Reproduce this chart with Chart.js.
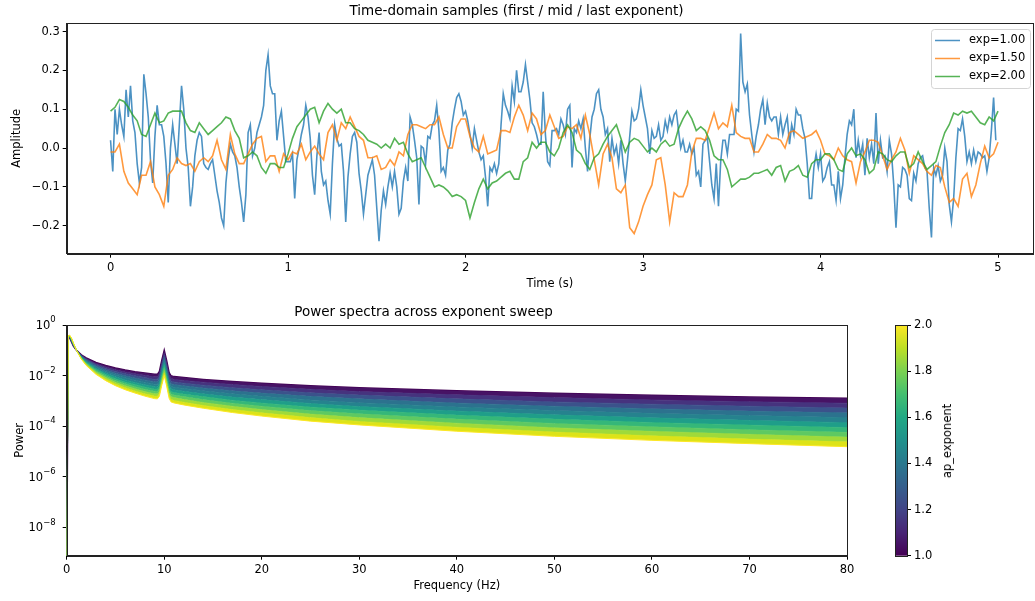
<!DOCTYPE html>
<html lang="en">
<head>
<meta charset="UTF-8">
<title>Aperiodic exponent sweep</title>
<script src="https://cdn.jsdelivr.net/npm/chart.js"></script>
<style>
  body { margin: 0; background: #fff; }
  #wrap { position: relative; width: 1035px; height: 601px; font-family: 'DejaVu Sans', sans-serif; }
  canvas { position: absolute; }
  #cbLabel { position: absolute; left: 947px; top: 441px; transform: translate(-50%, -50%) rotate(-90deg);
             font-size: 11.5px; white-space: nowrap; color: #000; font-family: 'DejaVu Sans', sans-serif; }
</style>
</head>
<body>
<div id="wrap">
  <canvas id="timeChart" width="1035" height="300" style="left:0;top:0"></canvas>
  <canvas id="specChart" width="1035" height="301" style="left:0;top:300px"></canvas>
  <canvas id="cbar" width="72" height="301" style="left:895px;top:300px"></canvas>
  <div id="cbLabel">ap_exponent</div>
</div>
<script>
// ---- time-domain samples ----
const dtFast = 0.0125;  // step of the exp=1.00 trace
const dtSlow = 0.025;   // step of the exp=1.50 / exp=2.00 traces

const ampExp100 = [
  // 0.0 - 0.825 s
  0.02, -0.06, 0.10, 0.035, 0.10, 0.06, 0.03, 0.15, 0.08, 0.16,
  0.07, 0.04, -0.04, -0.09, -0.05, 0.19, 0.14, 0.08, -0.03, -0.09,
  0.03, 0.11, 0.06, 0.06, 0.03, -0.04, -0.14, 0.0, 0.06, 0.01,
  -0.04, 0.06, 0.16, 0.10, 0.0, -0.05, -0.15, -0.10, -0.02, 0.02,
  0.04, 0.03, -0.04, -0.05, -0.055, -0.04, -0.03, -0.07, -0.11, -0.14,
  -0.18, -0.20, -0.09, -0.03, 0.01, -0.01, -0.02, -0.05, -0.10, -0.14,
  -0.19, -0.12, 0.04, 0.06, -0.02, 0.0, 0.04,
  // 0.8375 - 1.675 s
  0.06, 0.08, 0.11, 0.20, 0.24, 0.16, 0.14, 0.14, 0.02, 0.07,
  0.095, 0.03, -0.035, -0.035, -0.035, -0.015, -0.13, -0.03, 0.0, 0.035,
  0.06, 0.11, 0.08, 0.025, -0.07, -0.12, -0.02, 0.04, -0.06, -0.095,
  -0.085, -0.135, -0.17, -0.04, 0.06, 0.025, 0.005, 0.01, -0.06, -0.19,
  -0.075, -0.015, 0.03, 0.04, 0.015, -0.065, -0.11, -0.17, -0.12, -0.07,
  -0.05, -0.03, -0.07, -0.155, -0.24, -0.16, -0.11, -0.145, -0.10, -0.065,
  -0.10, -0.06, -0.10, -0.17, -0.155, -0.085, -0.05, -0.085,
  // 1.6875 - 2.5 s
  0.08, 0.06, 0.02, -0.025, -0.145, 0.005, 0.0, -0.04, 0.03, 0.025,
  0.06, 0.07, 0.11, 0.045, -0.06, -0.05, -0.07, -0.005, 0.01, 0.065,
  0.10, 0.13, 0.14, 0.12, 0.085, 0.095, 0.07, 0.035, 0.0, 0.05,
  0.02, -0.01, -0.03, -0.02, -0.075, -0.15, -0.05, -0.06, -0.04, -0.065,
  -0.04, 0.06, 0.14, 0.11, 0.095, 0.075, 0.16, 0.12, 0.20, 0.145,
  0.145, 0.17, 0.215, 0.17, 0.125, 0.065, 0.055, 0.035, 0.01, 0.01,
  0.145, 0.035, -0.035, -0.045, 0.045, 0.045,
  // 2.5125 - 3.35 s
  0.05, 0.035, 0.075, 0.06, 0.035, 0.10, 0.11, -0.05, 0.05, 0.04,
  0.07, 0.05, 0.075, 0.0, -0.06, 0.025, 0.08, 0.10, 0.14, 0.15,
  0.10, 0.08, 0.035, 0.05, -0.035, 0.025, -0.015, 0.005, -0.04, 0.02,
  -0.04, -0.085, -0.03, 0.03, 0.095, 0.07, 0.075, 0.10, 0.15, 0.11,
  0.08, 0.05, -0.015, 0.045, 0.025, 0.03, 0.06, 0.02, 0.03, 0.07,
  0.045, 0.08, 0.06, 0.085, 0.095, 0.045, 0.0, 0.02, -0.01, -0.01,
  0.01, -0.015, 0.0, -0.07, -0.06, -0.10, 0.01, 0.02,
  // 3.3625 - 4.1875 s
  0.025, -0.035, -0.095, -0.13, -0.04, -0.15, -0.035, 0.02, 0.02, -0.015,
  0.035, 0.035, 0.035, 0.10, 0.095, 0.295, 0.17, 0.145, 0.165, 0.085,
  0.035, -0.01, 0.03, 0.06, 0.10, 0.125, 0.06, 0.115, 0.08, 0.07,
  0.08, 0.08, 0.035, 0.08, 0.035, 0.06, 0.08, 0.01, 0.06, 0.035,
  0.10, 0.085, 0.085, 0.05, 0.025, -0.04, -0.13, -0.13, -0.05, -0.015,
  -0.05, -0.015, -0.085, -0.075, -0.05, -0.035, -0.095, -0.095, -0.135, -0.06,
  -0.13, -0.095, -0.025, 0.035, 0.07, 0.06, 0.10,
  // 4.2 - 4.9875 s
  -0.025, 0.02, -0.02, 0.01, -0.07, 0.025, -0.025, 0.01, -0.04, 0.09,
  -0.04, 0.02, -0.025, -0.02, -0.06, 0.02, -0.015, -0.095, -0.205, -0.095,
  -0.10, -0.05, -0.055, -0.07, -0.13, -0.135, -0.065, -0.085, -0.04, -0.025,
  -0.02, -0.05, -0.06, -0.155, -0.23, -0.05, -0.07, -0.045, -0.085, -0.07,
  0.0, -0.035, -0.145, -0.19, -0.13, -0.025, 0.05, 0.045, 0.075, 0.03,
  -0.035, -0.01, -0.04, -0.005, -0.035, -0.01, -0.015, -0.025, -0.02, -0.06,
  -0.025, 0.045, 0.13, 0.02
];

const ampExp150 = [
  -0.01, -0.01, 0.01, -0.06, -0.09, -0.105, -0.12, -0.07, -0.07, -0.035,
  -0.10, -0.12, -0.15, -0.07, -0.055, -0.025, -0.04, -0.045, -0.04, -0.06,
  -0.035, -0.025, -0.035, -0.02, 0.02, -0.03, -0.055, 0.035, -0.015, -0.04,
  -0.04, -0.015, 0.01, 0.025,
  0.03, -0.035, -0.02, -0.02, -0.06, -0.015, -0.03, -0.01, -0.015, 0.01,
  -0.03, -0.01, 0.005, -0.015, -0.03, 0.04, 0.06, 0.02, 0.065, 0.05,
  0.08, 0.055, 0.03, 0.02, -0.025, -0.025, -0.02, -0.055, -0.05, -0.03,
  -0.045, -0.01, -0.02, 0.035,
  0.06, 0.06, 0.055, 0.05, 0.06, 0.06, 0.08, 0.035, 0.0, 0.0,
  0.055, 0.075, 0.075, 0.03, 0.0, -0.01, 0.03, -0.015, -0.01, -0.005,
  0.045, 0.045, 0.04, 0.08, 0.11, 0.085, 0.045, 0.09, 0.075, 0.035,
  0.045, 0.085, 0.055,
  0.025, 0.03, 0.055, 0.05, 0.06, 0.025, 0.085, 0.035, -0.03, -0.095,
  -0.015, 0.01, -0.025, -0.105, -0.115, -0.095, -0.205, -0.22, -0.19, -0.15,
  -0.12, -0.095, -0.03, -0.025, -0.095, -0.19, -0.115, -0.125, -0.125, -0.095,
  -0.01, 0.025, 0.025, 0.02,
  0.055, 0.09, 0.05, 0.065, 0.055, 0.11, 0.04, 0.03, 0.025, 0.025,
  -0.01, -0.01, 0.01, 0.035, 0.025, 0.025, 0.02, 0.0, 0.04, 0.045,
  0.035, 0.025, 0.03, 0.035, 0.045, 0.02, -0.015, -0.02, -0.03, 0.0,
  -0.02, -0.03, -0.035, -0.09,
  -0.035, -0.01, 0.02, 0.02, 0.015, -0.02, -0.055, -0.03, -0.01, 0.025,
  -0.005, -0.065, -0.02, -0.03, -0.04, -0.06, -0.07, -0.045, -0.05, -0.10,
  -0.14, -0.13, -0.15, -0.08, -0.065, -0.125, -0.095, -0.04, 0.005, -0.025,
  -0.015, 0.015
];

const ampExp200 = [
  0.095, 0.105, 0.125, 0.12, 0.105, 0.085, 0.07, 0.035, 0.03, 0.06,
  0.09, 0.065, 0.07, 0.09, 0.095, 0.095, 0.095, 0.065, 0.045, 0.04,
  0.065, 0.05, 0.035, 0.045, 0.055, 0.065, 0.08, 0.075, 0.045, 0.025,
  -0.025, -0.02, -0.01, -0.02,
  -0.05, -0.065, -0.04, -0.04, -0.05, -0.05, -0.015, 0.025, 0.055, 0.07,
  0.085, 0.10, 0.105, 0.065, 0.095, 0.115, 0.10, 0.09, 0.10, 0.065,
  0.065, 0.05, 0.045, 0.035, 0.02, 0.015, 0.01, 0.0, 0.01, 0.0,
  0.025, 0.01, 0.015, -0.015,
  -0.035, -0.03, -0.025, -0.05, -0.075, -0.10, -0.095, -0.10, -0.11, -0.125,
  -0.12, -0.125, -0.135, -0.18, -0.14, -0.105, -0.08, -0.105, -0.09, -0.085,
  -0.075, -0.065, -0.06, -0.08, -0.08, -0.035, -0.025, 0.015, 0.0, 0.015,
  0.015, -0.01, -0.02,
  0.0, 0.04, 0.06, 0.04, -0.005, -0.015, -0.04, -0.055, -0.025, -0.015,
  0.01, 0.03, 0.045, 0.06, 0.025, -0.01, 0.015, 0.025, 0.02, 0.005,
  -0.01, 0.0, -0.01, 0.01, 0.02, 0.005, 0.01, 0.05, 0.075, 0.095,
  0.075, 0.045, 0.055, 0.045,
  0.02, -0.02, -0.03, -0.03, -0.055, -0.10, -0.09, -0.08, -0.08, -0.075,
  -0.065, -0.065, -0.06, -0.055, -0.07, -0.05, -0.045, -0.085, -0.06, -0.055,
  -0.045, -0.07, -0.075, -0.04, -0.03, -0.03, -0.015, -0.015, -0.03, -0.055,
  -0.06, -0.015, 0.0, -0.02,
  -0.015, -0.03, -0.065, -0.055, -0.01, -0.015, -0.03, -0.035, -0.02, -0.01,
  -0.01, -0.05, -0.04, -0.01, -0.035, -0.055, -0.045, -0.035, 0.005, 0.04,
  0.06, 0.09, 0.085, 0.095, 0.09, 0.095, 0.08, 0.065, 0.06, 0.08,
  0.07, 0.095
];

const timeTicks = [0, 1, 2, 3, 4, 5];
const ampTicks = [-0.2, -0.1, 0.0, 0.1, 0.2, 0.3];

// ---- power spectra (log10 power, one row per exponent) ----
const freqs = [0, 0.15, 0.3, 0.5, 0.7, 1, 1.5, 2, 3, 4, 5, 6, 7, 8, 9, 9.3, 9.5, 9.75, 10, 10.25, 10.5, 10.7,
               11, 12, 14, 17, 20, 25, 30, 40, 50, 60, 70, 80];
const exponents = [1.0, 1.1, 1.2, 1.3, 1.4, 1.5, 1.6, 1.7, 1.8, 1.9, 2.0];
const logPowE10 = [-10, -0.50, -0.50, -0.68, -0.84, -1.00, -1.18, -1.30, -1.48, -1.60, -1.70, -1.78, -1.85, -1.90, -1.95, -1.95, -1.84, -1.39, -1.00, -1.41, -1.88, -2.01, -2.04, -2.08, -2.15, -2.23, -2.30, -2.40, -2.48, -2.60, -2.70, -2.78, -2.85, -2.90];
const logPowE11 = [-10, -0.49, -0.49, -0.66, -0.83, -1.00, -1.19, -1.33, -1.53, -1.66, -1.77, -1.86, -1.93, -1.99, -2.05, -2.05, -1.94, -1.49, -1.10, -1.51, -1.98, -2.11, -2.15, -2.19, -2.26, -2.35, -2.43, -2.54, -2.63, -2.76, -2.87, -2.96, -3.03, -3.09];
const logPowE12 = [-10, -0.48, -0.48, -0.65, -0.82, -1.00, -1.21, -1.36, -1.57, -1.72, -1.84, -1.93, -2.01, -2.08, -2.15, -2.14, -2.03, -1.59, -1.20, -1.61, -2.09, -2.22, -2.25, -2.30, -2.38, -2.48, -2.56, -2.68, -2.77, -2.92, -3.04, -3.13, -3.21, -3.28];
const logPowE13 = [-10, -0.48, -0.47, -0.63, -0.80, -1.00, -1.23, -1.39, -1.62, -1.78, -1.91, -2.01, -2.10, -2.17, -2.24, -2.24, -2.13, -1.69, -1.30, -1.71, -2.19, -2.32, -2.35, -2.40, -2.49, -2.60, -2.69, -2.82, -2.92, -3.08, -3.21, -3.31, -3.40, -3.47];
const logPowE14 = [-10, -0.47, -0.46, -0.61, -0.79, -1.00, -1.25, -1.42, -1.67, -1.84, -1.98, -2.09, -2.18, -2.26, -2.34, -2.34, -2.23, -1.79, -1.40, -1.82, -2.29, -2.42, -2.46, -2.51, -2.60, -2.72, -2.82, -2.96, -3.07, -3.24, -3.38, -3.49, -3.58, -3.66];
const logPowE15 = [-10, -0.46, -0.45, -0.60, -0.78, -1.00, -1.26, -1.45, -1.72, -1.90, -2.05, -2.17, -2.27, -2.36, -2.43, -2.43, -2.33, -1.88, -1.50, -1.92, -2.39, -2.52, -2.56, -2.62, -2.72, -2.85, -2.95, -3.10, -3.22, -3.40, -3.55, -3.67, -3.77, -3.86];
const logPowE16 = [-10, -0.45, -0.44, -0.58, -0.77, -1.00, -1.28, -1.48, -1.76, -1.96, -2.12, -2.25, -2.35, -2.45, -2.53, -2.53, -2.43, -1.98, -1.60, -2.02, -2.49, -2.63, -2.67, -2.73, -2.83, -2.97, -3.08, -3.24, -3.36, -3.56, -3.72, -3.85, -3.95, -4.05];
const logPowE17 = [-10, -0.44, -0.43, -0.57, -0.76, -1.00, -1.30, -1.51, -1.81, -2.02, -2.19, -2.32, -2.44, -2.54, -2.62, -2.63, -2.52, -2.08, -1.70, -2.12, -2.60, -2.73, -2.77, -2.83, -2.95, -3.09, -3.21, -3.38, -3.51, -3.72, -3.89, -4.02, -4.14, -4.24];
const logPowE18 = [-10, -0.44, -0.42, -0.55, -0.74, -1.00, -1.32, -1.54, -1.86, -2.08, -2.26, -2.40, -2.52, -2.63, -2.72, -2.72, -2.62, -2.18, -1.80, -2.22, -2.70, -2.83, -2.87, -2.94, -3.06, -3.21, -3.34, -3.52, -3.66, -3.88, -4.06, -4.20, -4.32, -4.43];
const logPowE19 = [-10, -0.43, -0.41, -0.54, -0.73, -1.00, -1.33, -1.57, -1.91, -2.14, -2.33, -2.48, -2.61, -2.72, -2.81, -2.82, -2.72, -2.28, -1.90, -2.32, -2.80, -2.94, -2.98, -3.05, -3.18, -3.34, -3.47, -3.66, -3.81, -4.04, -4.23, -4.38, -4.51, -4.62];
const logPowE20 = [-10, -0.42, -0.40, -0.52, -0.72, -1.00, -1.35, -1.60, -1.95, -2.20, -2.40, -2.56, -2.69, -2.81, -2.91, -2.92, -2.82, -2.38, -2.00, -2.42, -2.90, -3.04, -3.08, -3.16, -3.29, -3.46, -3.60, -3.80, -3.95, -4.20, -4.40, -4.56, -4.69, -4.81];
const spectra = [logPowE10, logPowE11, logPowE12, logPowE13, logPowE14, logPowE15,
                 logPowE16, logPowE17, logPowE18, logPowE19, logPowE20];
const freqTicks = [0, 10, 20, 30, 40, 50, 60, 70, 80];
const powerTicks = [1e-8, 1e-6, 1e-4, 1e-2, 1];
const cbarTicks = [1.0, 1.2, 1.4, 1.6, 1.8, 2.0];

// viridis colours at the swept exponents and half-way between them
const viridis = ['#440154', '#482475', '#414487', '#355f8d', '#2a788e', '#21918c',
                 '#22a884', '#44bf70', '#7ad151', '#bddf26', '#fde725'];
const viridisMid = ['#471365', '#46337e', '#3b528b', '#2c728e', '#26828e',
                    '#1f9e89', '#35b779', '#5ec962', '#9fda3a', '#dde318'];

const FONT = "'DejaVu Sans', sans-serif";
const tickFont = { family: FONT, size: 11.5 };
const minus = s => s.replace('-', '\u2212');

// box round the plot area, like matplotlib spines
const frame = {
  id: 'frame',
  afterDraw(chart) {
    const a = chart.chartArea, ctx = chart.ctx;
    ctx.save();
    ctx.strokeStyle = '#222';
    ctx.lineWidth = 1;
    ctx.strokeRect(Math.round(a.left) + 0.5, Math.round(a.top) + 0.5,
                   Math.round(a.right - a.left), Math.round(a.bottom - a.top));
    ctx.restore();
  }
};

// "10" with a raised exponent for the log axis labels
const logLabels = {
  id: 'logLabels',
  afterDraw(chart) {
    const s = chart.scales.y, ctx = chart.ctx;
    ctx.save();
    ctx.fillStyle = '#000';
    ctx.textBaseline = 'middle';
    ctx.textAlign = 'right';
    s.ticks.forEach(t => {
      const y = s.getPixelForValue(t.value);
      const e = minus(String(Math.round(Math.log10(t.value))));
      const right = s.right - 11;
      ctx.font = '8.5px ' + FONT;
      const ew = ctx.measureText(e).width;
      ctx.fillText(e, right, y - 5);
      ctx.font = '11.5px ' + FONT;
      ctx.fillText('10', right - ew, y + 1);
    });
    ctx.restore();
  }
};

// legend drawn inside the upper-right corner of the axes
const insideLegend = {
  id: 'insideLegend',
  afterDraw(chart) {
    const { ctx, chartArea } = chart;
    const w = 99, h = 59;
    const x = chartArea.right - w - 3, y = chartArea.top + 6;
    ctx.save();
    ctx.fillStyle = 'rgba(255,255,255,0.8)';
    ctx.strokeStyle = '#d4d4d4';
    ctx.lineWidth = 1;
    ctx.beginPath();
    ctx.roundRect(Math.round(x) + 0.5, Math.round(y) + 0.5, w, h, 3);
    ctx.fill();
    ctx.stroke();
    ctx.font = '11.5px ' + FONT;
    ctx.textBaseline = 'middle';
    chart.data.datasets.forEach((ds, i) => {
      const cy = y + 11.5 + i * 18;
      ctx.strokeStyle = ds.borderColor;
      ctx.lineWidth = 1.5;
      ctx.beginPath();
      ctx.moveTo(x + 4, cy);
      ctx.lineTo(x + 29, cy);
      ctx.stroke();
      ctx.fillStyle = '#000';
      ctx.fillText(ds.label, x + 38, cy);
    });
    ctx.restore();
  }
};

const axisGrid = { drawOnChartArea: false, drawTicks: true, tickLength: 4, color: '#000' };
const axisBorder = { display: true, color: '#222' };

const toPoints = (vals, step) => vals.map((v, i) => ({ x: i * step, y: v }));

new Chart(document.getElementById('timeChart'), {
  type: 'line',
  data: {
    datasets: [
      { label: 'exp=1.00', data: toPoints(ampExp100, dtFast), borderColor: 'rgba(31,119,180,0.8)', order: 2 },
      { label: 'exp=1.50', data: toPoints(ampExp150, dtSlow), borderColor: 'rgba(255,127,14,0.8)', order: 1 },
      { label: 'exp=2.00', data: toPoints(ampExp200, dtSlow), borderColor: 'rgba(44,160,44,0.8)', order: 0 }
    ]
  },
  options: {
    responsive: false,
    animation: false,
    elements: { line: { borderWidth: 1.6, tension: 0 }, point: { radius: 0 } },
    layout: { padding: { left: 0, right: 2, top: 0, bottom: 0 } },
    plugins: {
      legend: { display: false },
      tooltip: { enabled: false },
      title: { display: true, text: 'Time-domain samples (first / mid / last exponent)',
               font: { family: FONT, size: 13.5, weight: 'normal' }, color: '#000',
               padding: { top: 3, bottom: 3.8 } }
    },
    scales: {
      x: {
        type: 'linear', min: -0.247, max: 5.197,
        afterBuildTicks: s => { s.ticks = timeTicks.map(v => ({ value: v })); },
        afterFit: s => { s.height = 46.3; },
        ticks: { font: tickFont, color: '#000', padding: 3, maxRotation: 0, callback: v => String(v) },
        grid: axisGrid, border: axisBorder,
        title: { display: true, text: 'Time (s)', font: tickFont, color: '#000', padding: { top: 0, bottom: 9 } }
      },
      y: {
        min: -0.272, max: 0.322,
        afterBuildTicks: s => { s.ticks = ampTicks.map(v => ({ value: v })); },
        afterFit: s => { s.width = 66.7; },
        ticks: { font: tickFont, color: '#000', padding: 3, callback: v => minus(v.toFixed(1)) },
        grid: axisGrid, border: axisBorder,
        title: { display: true, text: 'Amplitude', font: tickFont, color: '#000', padding: { top: 10.5, bottom: 0 } }
      }
    }
  },
  plugins: [frame, insideLegend]
});

new Chart(document.getElementById('specChart'), {
  type: 'line',
  data: {
    datasets: spectra.map((row, i) => ({
      label: 'ap_exponent=' + exponents[i].toFixed(1),
      data: row.map((lp, k) => ({ x: freqs[k], y: Math.pow(10, lp) })),
      borderColor: viridis[i],
      backgroundColor: i === 0 ? viridis[0] : viridisMid[i - 1],
      fill: i === 0 ? false : '-1',
      borderWidth: i === 0 ? 1.5 : 1,
      order: spectra.length - i
    }))
  },
  options: {
    responsive: false,
    animation: false,
    elements: { line: { tension: 0 }, point: { radius: 0 } },
    layout: { padding: { left: 0, right: 188, top: 0, bottom: 0 } },
    plugins: {
      legend: { display: false },
      tooltip: { enabled: false },
      title: { display: true, text: 'Power spectra across exponent sweep',
               font: { family: FONT, size: 13.5, weight: 'normal' }, color: '#000',
               padding: { top: 4, bottom: 4.8 } }
    },
    scales: {
      x: {
        type: 'linear', min: 0, max: 80,
        afterBuildTicks: s => { s.ticks = freqTicks.map(v => ({ value: v })); },
        afterFit: s => { s.height = 45.3; },
        ticks: { font: tickFont, color: '#000', padding: 3, maxRotation: 0, callback: v => String(v) },
        grid: axisGrid, border: axisBorder,
        title: { display: true, text: 'Frequency (Hz)', font: tickFont, color: '#000', padding: { top: 0, bottom: 8 } }
      },
      y: {
        type: 'logarithmic', min: Math.pow(10, -9.12), max: 1,
        afterBuildTicks: s => { s.ticks = powerTicks.map(v => ({ value: v })); },
        afterFit: s => { s.width = 66.7; },
        ticks: { font: tickFont, color: '#000', padding: 3, callback: () => '' },
        grid: axisGrid, border: axisBorder,
        title: { display: true, text: 'Power', font: tickFont, color: '#000', padding: { top: 13, bottom: 0 } }
      }
    }
  },
  plugins: [frame, logLabels]
});

// colour bar: gradient strip with its own exponent axis
const cbarFill = {
  id: 'cbarFill',
  beforeDatasetsDraw(chart) {
    const a = chart.chartArea, ctx = chart.ctx;
    const g = ctx.createLinearGradient(0, a.bottom, 0, a.top);
    viridis.forEach((c, i) => g.addColorStop(i / (viridis.length - 1), c));
    ctx.save();
    ctx.fillStyle = g;
    ctx.fillRect(a.left, a.top, a.right - a.left, a.bottom - a.top);
    ctx.restore();
  }
};

new Chart(document.getElementById('cbar'), {
  type: 'scatter',
  data: { datasets: [] },
  options: {
    responsive: false,
    animation: false,
    layout: { padding: { left: 0, right: 0, top: 25, bottom: 45.3 } },
    plugins: { legend: { display: false }, tooltip: { enabled: false } },
    scales: {
      x: { display: false, min: 0, max: 1 },
      y: {
        position: 'right', min: 1, max: 2,
        afterBuildTicks: s => { s.ticks = cbarTicks.map(v => ({ value: v })); },
        afterFit: s => { s.width = 60; },
        ticks: { font: tickFont, color: '#000', padding: 3, callback: v => v.toFixed(1) },
        grid: axisGrid, border: axisBorder
      }
    }
  },
  plugins: [cbarFill, frame]
});
</script>
</body>
</html>
